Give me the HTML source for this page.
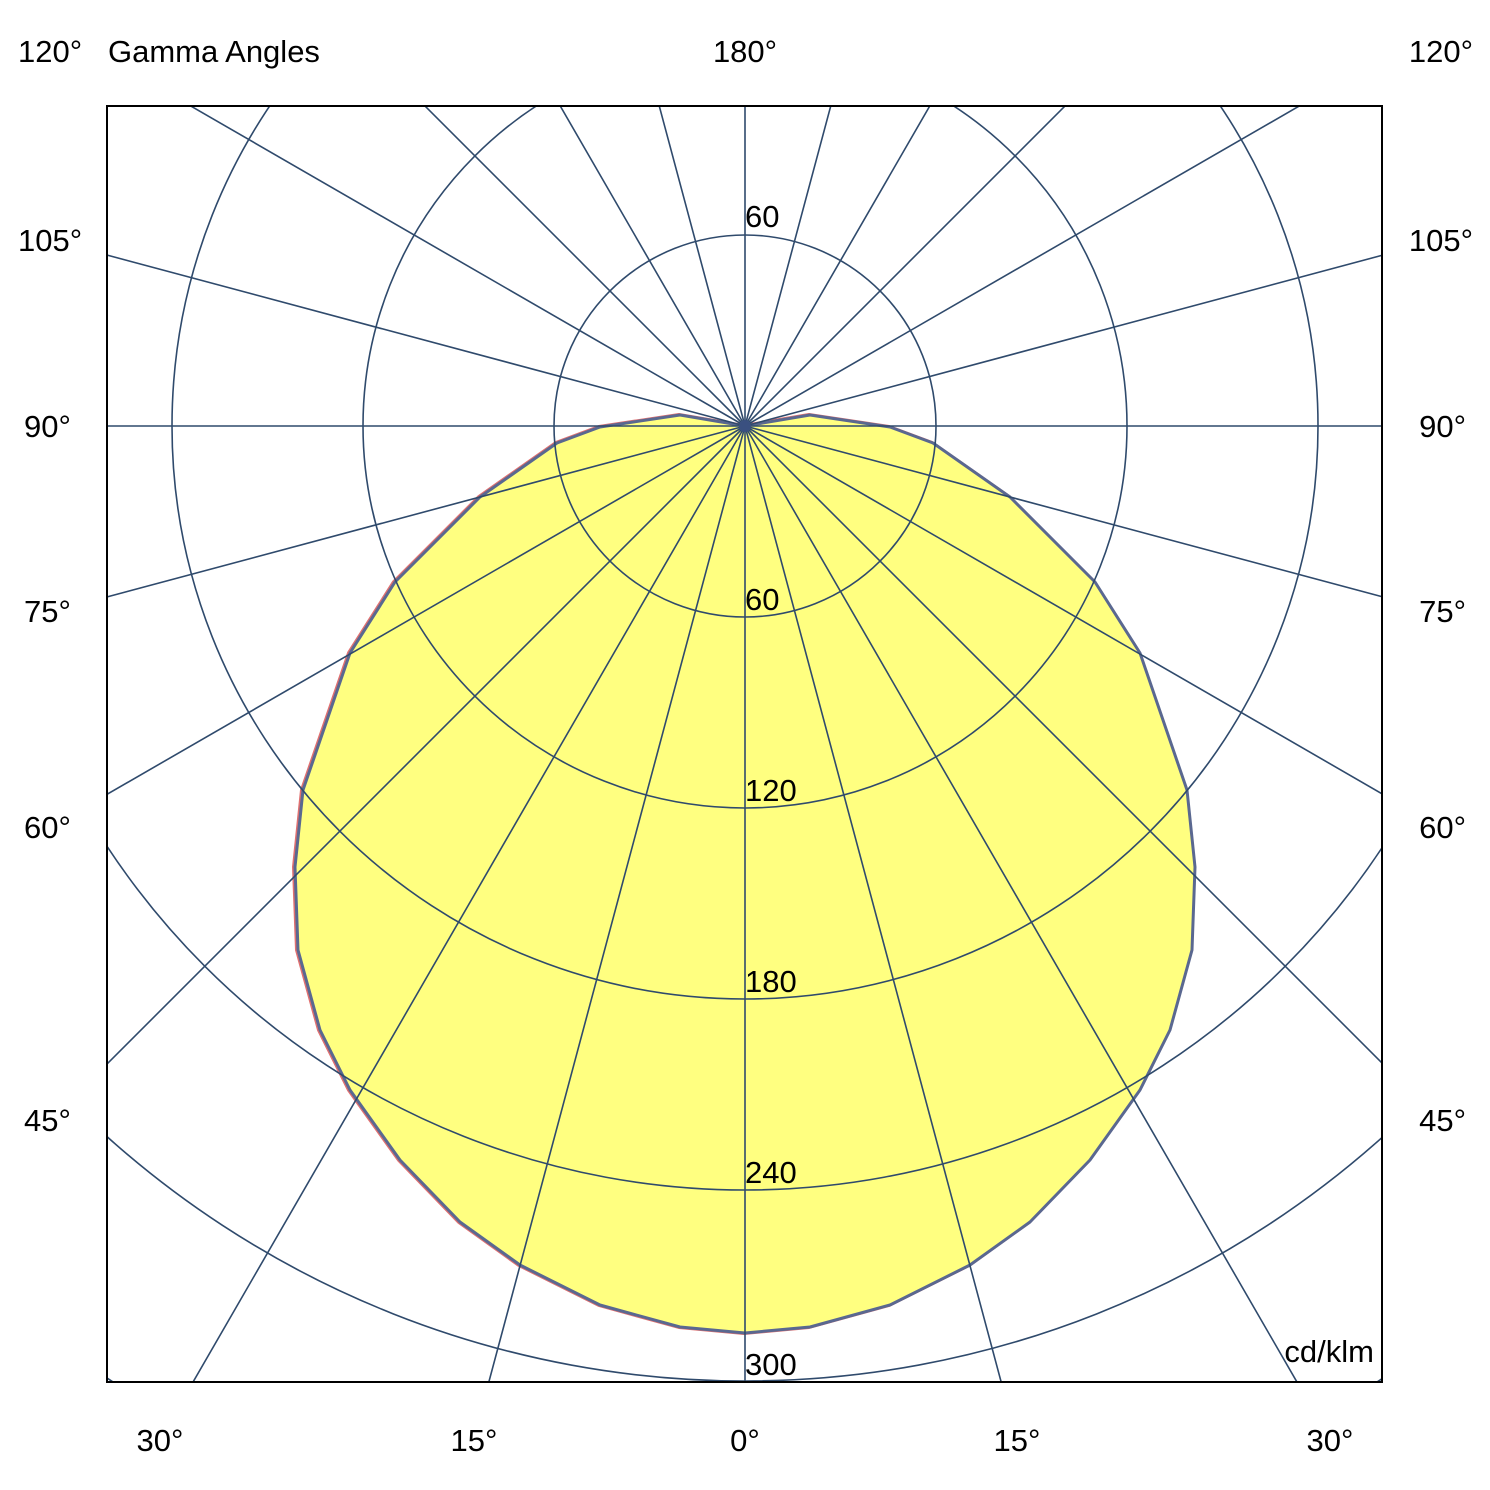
<!DOCTYPE html>
<html><head><meta charset="utf-8"><style>
html,body{margin:0;padding:0;background:#fff;width:1490px;height:1490px;overflow:hidden;}
svg{display:block;}
svg text{font-family:"Liberation Sans",Arial,sans-serif;font-size:31px;fill:#000;}
</style></head><body>
<svg width="1490" height="1490" viewBox="0 0 1490 1490" xmlns="http://www.w3.org/2000/svg">
<defs><clipPath id="c"><rect x="107" y="106" width="1275" height="1276"/></clipPath></defs>
<g clip-path="url(#c)">
<path d="M745,426 L680,415 L600,427 L557,443 L480,497 L395,582 L350,653 L303,790 L295,867 L298,950 L320,1030 L350,1090 L400,1160 L460,1222 L520,1265 L600,1305 L680,1327 L745,1333 L810,1327 L890,1305 L970,1265 L1030,1222 L1090,1160 L1140,1090 L1170,1030 L1192,950 L1195,867 L1187,790 L1140,653 L1095,582 L1010,497 L933,443 L890,427 L810,415 Z" fill="#ffff80" stroke="#e07070" stroke-width="4" stroke-linejoin="round" transform="translate(-1,0)"/>
<path d="M745,426 L680,415 L600,427 L557,443 L480,497 L395,582 L350,653 L303,790 L295,867 L298,950 L320,1030 L350,1090 L400,1160 L460,1222 L520,1265 L600,1305 L680,1327 L745,1333 L810,1327 L890,1305 L970,1265 L1030,1222 L1090,1160 L1140,1090 L1170,1030 L1192,950 L1195,867 L1187,790 L1140,653 L1095,582 L1010,497 L933,443 L890,427 L810,415 Z" fill="#ffff80" stroke="#5a6890" stroke-width="3" stroke-linejoin="round"/>
<g fill="none" stroke="#2f4a6c" stroke-width="1.6">
<circle cx="745" cy="426" r="191"/>
<circle cx="745" cy="426" r="382"/>
<circle cx="745" cy="426" r="573"/>
<circle cx="745" cy="426" r="764"/>
<circle cx="745" cy="426" r="955"/>
<circle cx="745" cy="426" r="1146"/>
<line x1="745" y1="426" x2="745" y2="1900"/>
<line x1="745" y1="426" x2="745" y2="1900" transform="rotate(15 745 426)"/>
<line x1="745" y1="426" x2="745" y2="1900" transform="rotate(30 745 426)"/>
<line x1="745" y1="426" x2="745" y2="1900" transform="rotate(45 745 426)"/>
<line x1="745" y1="426" x2="745" y2="1900" transform="rotate(60 745 426)"/>
<line x1="745" y1="426" x2="745" y2="1900" transform="rotate(75 745 426)"/>
<line x1="745" y1="426" x2="745" y2="1900" transform="rotate(90 745 426)"/>
<line x1="745" y1="426" x2="745" y2="1900" transform="rotate(105 745 426)"/>
<line x1="745" y1="426" x2="745" y2="1900" transform="rotate(120 745 426)"/>
<line x1="745" y1="426" x2="745" y2="1900" transform="rotate(135 745 426)"/>
<line x1="745" y1="426" x2="745" y2="1900" transform="rotate(150 745 426)"/>
<line x1="745" y1="426" x2="745" y2="1900" transform="rotate(165 745 426)"/>
<line x1="745" y1="426" x2="745" y2="1900" transform="rotate(180 745 426)"/>
<line x1="745" y1="426" x2="745" y2="1900" transform="rotate(195 745 426)"/>
<line x1="745" y1="426" x2="745" y2="1900" transform="rotate(210 745 426)"/>
<line x1="745" y1="426" x2="745" y2="1900" transform="rotate(225 745 426)"/>
<line x1="745" y1="426" x2="745" y2="1900" transform="rotate(240 745 426)"/>
<line x1="745" y1="426" x2="745" y2="1900" transform="rotate(255 745 426)"/>
<line x1="745" y1="426" x2="745" y2="1900" transform="rotate(270 745 426)"/>
<line x1="745" y1="426" x2="745" y2="1900" transform="rotate(285 745 426)"/>
<line x1="745" y1="426" x2="745" y2="1900" transform="rotate(300 745 426)"/>
<line x1="745" y1="426" x2="745" y2="1900" transform="rotate(315 745 426)"/>
<line x1="745" y1="426" x2="745" y2="1900" transform="rotate(330 745 426)"/>
<line x1="745" y1="426" x2="745" y2="1900" transform="rotate(345 745 426)"/>
</g>
<circle cx="745" cy="426" r="6" fill="#3a5080"/>
</g>
<rect x="107" y="106" width="1275" height="1276" fill="none" stroke="#000" stroke-width="2"/>
<text x="18" y="62">120°</text>
<text x="108" y="62">Gamma Angles</text>
<text x="745" y="62" text-anchor="middle">180°</text>
<text x="1473" y="62" text-anchor="end">120°</text>
<text x="18" y="251">105°</text>
<text x="1473" y="251" text-anchor="end">105°</text>
<text x="24" y="437">90°</text>
<text x="1466" y="437" text-anchor="end">90°</text>
<text x="24" y="622">75°</text>
<text x="1466" y="622" text-anchor="end">75°</text>
<text x="24" y="838">60°</text>
<text x="1466" y="838" text-anchor="end">60°</text>
<text x="24" y="1131">45°</text>
<text x="1466" y="1131" text-anchor="end">45°</text>
<text x="160" y="1451" text-anchor="middle">30°</text>
<text x="474" y="1451" text-anchor="middle">15°</text>
<text x="745" y="1451" text-anchor="middle">0°</text>
<text x="1017" y="1451" text-anchor="middle">15°</text>
<text x="1330" y="1451" text-anchor="middle">30°</text>
<text x="745" y="227">60</text>
<text x="745" y="610">60</text>
<text x="745" y="801">120</text>
<text x="745" y="992">180</text>
<text x="745" y="1183">240</text>
<text x="745" y="1375">300</text>
<text x="1374" y="1362" text-anchor="end">cd/klm</text>
</svg>
</body></html>
